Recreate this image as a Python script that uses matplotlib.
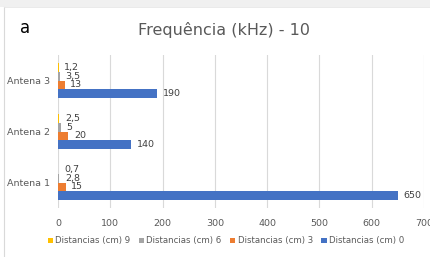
import matplotlib.pyplot as plt
import numpy as np
from matplotlib.patches import Rectangle

categories = ['Antena 1', 'Antena 2', 'Antena 3']
dist_0 = [650, 140, 190]
dist_3 = [15, 20, 13]
dist_6 = [2.8, 5, 3.5]
dist_9 = [0.7, 2.5, 1.2]
series_names = ['Distancias (cm) 0', 'Distancias (cm) 3', 'Distancias (cm) 6', 'Distancias (cm) 9']
colors = ['#4472C4', '#ED7D31', '#A5A5A5', '#FFC000']

W, H = 431, 257
fig = plt.figure(figsize=(W / 100, H / 100), dpi=100)
fig.patch.set_facecolor('white')

# frame of the screenshot
fig.patches.append(Rectangle((0, 1 - 7 / H), 1, 7 / H, transform=fig.transFigure,
                             facecolor='#F0F0F0', edgecolor='none', zorder=0))
fig.lines.append(plt.Line2D([4 / W, 4 / W], [0, 1 - 7 / H], transform=fig.transFigure,
                            color='#D9D9D9', lw=0.8))
fig.lines.append(plt.Line2D([4 / W, 1], [1 - 7 / H, 1 - 7 / H], transform=fig.transFigure,
                            color='#E6E6E6', lw=0.6))

ax = fig.add_axes([58 / W, 1 - 208 / H, (424 - 58) / W, (208 - 55) / H])

y = np.arange(len(categories))
h = 0.17
series = [dist_0, dist_3, dist_6, dist_9]
offsets = [-1.5 * h, -0.5 * h, 0.5 * h, 1.5 * h]
bars = []
for vals, off, col, name in zip(series, offsets, colors, series_names):
    b = ax.barh(y + off, vals, height=h, color=col, label=name, zorder=3)
    bars.append(b)
    labels = [f'{v:g}'.replace('.', ',') for v in vals]
    ax.bar_label(b, labels=labels, padding=4, fontsize=6.8, color='#404040')

ax.set_xlim(0, 700)
ax.set_ylim(-0.5, 2.5)
ax.set_xticks(np.arange(0, 701, 100))
ax.set_yticks(y)
ax.set_yticklabels(categories)
ax.tick_params(axis='both', length=0, labelsize=6.8, labelcolor='#595959')
ax.tick_params(axis='x', pad=8)
ax.tick_params(axis='y', pad=6)
ax.grid(axis='x', color='#D9D9D9', lw=0.8, zorder=0)
for s in ax.spines.values():
    s.set_visible(False)

fig.text(224 / W, 1 - 30 / H, 'Frequência (kHz) - 10', ha='center', va='center',
         fontsize=11.5, color='#595959')
fig.text(25 / W, 1 - 28 / H, 'a', ha='center', va='center', fontsize=12, color='black')

handles = bars[::-1]
leg = fig.legend(handles, series_names[::-1], loc='center', bbox_to_anchor=(226 / W, 1 - 241 / H),
                 ncol=4, fontsize=6.2, frameon=False, handlelength=0.6, handleheight=0.6,
                 handletextpad=0.25, columnspacing=1.0, labelcolor='#595959')

fig.savefig('out.png', dpi=100)
